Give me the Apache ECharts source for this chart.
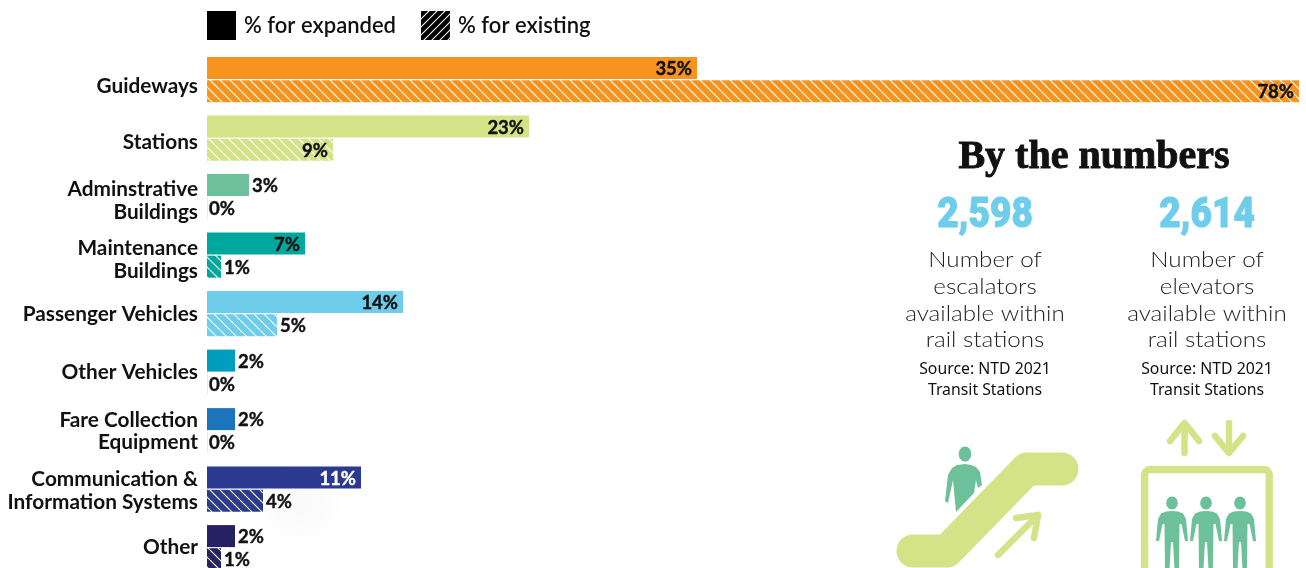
<!DOCTYPE html>
<html>
<head>
<meta charset="utf-8">
<style>html,body{margin:0;padding:0;background:#fff}#chart{width:1306px;height:568px}</style>
<script src="https://cdn.jsdelivr.net/npm/echarts@6/dist/echarts.min.js"></script>
</head>
<body>
<div id="chart"></div>
<script>
// Share of capital spending per asset class
const categories = ['Guideways','Stations','Adminstrative\nBuildings','Maintenance\nBuildings','Passenger Vehicles','Other Vehicles','Fare Collection\nEquipment','Communication &\nInformation Systems','Other'];
const expanded = [35,23,3,7,14,2,2,11,2];
const existing = [78,9,0,1,5,0,0,4,1];
const colors = ['#F7941F','#D4E387','#6CC19A','#00A79D','#6DCDEB','#009DBF','#1C75BC','#2B3990','#262262'];
const legendNames = ['% for expanded','% for existing'];

const fontFamily = 'Lato, "Noto Sans", sans-serif';
// Downward nudge of each category label relative to its row centre
const labelNudge = [5,2.5,3.5,4,-1,-1,0,1,-2];
const labelLineHeight = 23.5;

// Diagonal hatching tile; dir 1 runs top-left to bottom-right, -1 the other way
function hatch(color, dir, size) {
  const c = document.createElement('canvas');
  c.width = c.height = size;
  const g = c.getContext('2d');
  g.fillStyle = color;
  g.fillRect(0, 0, size, size);
  g.strokeStyle = '#fff';
  g.lineWidth = 1.1;
  g.beginPath();
  for (let k = -1; k <= 1; k++) {
    if (dir > 0) { g.moveTo(k * size, 0); g.lineTo(k * size + size, size); }
    else { g.moveTo(k * size + size, 0); g.lineTo(k * size, size); }
  }
  g.stroke();
  return { image: c, repeat: 'repeat' };
}

// Bar value labels sit inside when they fit, otherwise just past the bar end
function valueLabel(v, i) {
  const inside = v >= 7;
  const ink = i === 7 && inside ? '#fff' : '#111';
  return {
    show: true,
    position: inside ? 'insideRight' : 'right',
    distance: inside ? 5 : (v === 0 ? 1 : 3),
    offset: [0, 1],
    formatter: '{c}%',
    color: ink,
    textBorderColor: ink,
    textBorderWidth: 0.4,
    fontFamily, fontWeight: 'bold', fontSize: 18.5
  };
}

const green = '#D4E387', mint = '#6CC19A', blue = '#6DCDEB';

function personPts(cx, top, pts) {
  return pts.map(p => [cx + p[0], top + p[1]]);
}
// Standing figure outline, relative to the centre line and shoulder top
const figure = [[0,0],[-6,0.4],[-11,2.5],[-14,8],[-16,30],[-13,30],[-9.5,13],[-7.5,13],[-7,58],[-2.5,58],[-1,31],[1,31],[2.5,58],[7,58],[7.5,13],[9.5,13],[13,30],[16,30],[14,8],[11,2.5],[6,0.4]];

function stroke(points, width, color) {
  return { type:'polyline', shape:{points}, style:{stroke:color, lineWidth:width, lineCap:'round', lineJoin:'round', fill:null} };
}
function text(str, x, y, font, fill, extra, scaleX) {
  return { type:'text', x, y, scaleX: scaleX || 1, style:Object.assign({text:str, font, fill, textAlign:'center', textVerticalAlign:'middle'}, extra||{}) };
}

const graphics = [
  { type:'circle', z:-1, shape:{cx:300,cy:505,r:46}, style:{fill:{type:'radial',x:0.5,y:0.5,r:0.5,colorStops:[{offset:0,color:'rgba(0,0,0,0.025)'},{offset:1,color:'rgba(0,0,0,0)'}]}} },
  text('By the numbers', 1094, 158, 'bold 40px "Liberation Serif"', '#111', {stroke:'#111',lineWidth:0.9}),
  text('2,598', 985, 216, '900 42px Roboto', blue, {stroke:blue,lineWidth:1}, 0.88),
  text('2,614', 1207, 216, '900 42px Roboto', blue, {stroke:blue,lineWidth:1}, 0.88)
];
[985, 1207].forEach((cx, n) => {
  ['Number of', n ? 'elevators' : 'escalators', 'available within', 'rail stations'].forEach((t, i) => {
    graphics.push(text(t, cx, 260 + i * 26.8, '300 22px Lato', '#222', null, 1.1));
  });
  graphics.push(text('Source: NTD 2021', cx, 369, '15.8px "Noto Sans"', '#111'));
  graphics.push(text('Transit Stations', cx, 390, '15.8px "Noto Sans"', '#111'));
});

// Escalator pictogram
graphics.push(stroke([[913,551],[947,551],[1027,469],[1062,469]], 33, green));
graphics.push(stroke([[998,555],[1038,515]], 6.5, green));
graphics.push(stroke([[1016,518],[1038,515],[1034,538]], 6.5, green));
graphics.push({ type:'ellipse', shape:{cx:965,cy:454,rx:6.3,ry:7.6}, style:{fill:mint} });
graphics.push({ type:'polygon', shape:{points:[[965,464],[957,465],[952,468],[948,475],[945,501],[948,503],[953,480],[956,512],[974,493],[976,480],[978,488],[982,485],[980,472],[976,467],[971,465]]}, style:{fill:mint} });

// Elevator pictogram
graphics.push({ type:'rect', shape:{x:1144.7,y:469.5,width:124.5,height:120,r:5}, style:{stroke:green,lineWidth:7.3,fill:null} });
graphics.push(stroke([[1184.5,453],[1184.5,424]], 6.5, green));
graphics.push(stroke([[1170,441],[1184.5,423],[1199,441]], 6.5, green));
graphics.push(stroke([[1229,423],[1229,452]], 6.5, green));
graphics.push(stroke([[1215,436],[1229,453],[1243,436]], 6.5, green));
[1172,1206,1240].forEach(cx => {
  graphics.push({ type:'ellipse', shape:{cx,cy:503,rx:5.8,ry:6.5}, style:{fill:mint} });
  graphics.push({ type:'polygon', shape:{points:personPts(cx,511,figure)}, style:{fill:mint} });
});

const labelFont = { fontFamily, fontWeight:'bold', fontSize:20.8, color:'#111' };
const labelRich = { rest: Object.assign({ lineHeight: labelLineHeight }, labelFont) };
labelNudge.forEach((s, i) => {
  labelRich['row' + i] = Object.assign({ lineHeight: labelLineHeight + 2 * s, verticalAlign:'bottom' }, labelFont);
});

const chart = echarts.init(document.getElementById('chart'), null, {renderer:'canvas'});
chart.setOption({
  animation:false,
  backgroundColor:'#fff',
  legend:{
    left:202, top:6, itemWidth:29, itemHeight:29, itemGap:25, selectedMode:false, icon:'rect',
    textStyle:{fontFamily,fontSize:22,fontWeight:600,color:'#111',padding:[0,0,0,3]},
    data:[
      {name:legendNames[0], itemStyle:{color:'#000'}},
      {name:legendNames[1], itemStyle:{color:hatch('#000',-1,8)}}
    ]
  },
  grid:{left:207, top:50.4, width:1092, height:526.5, outerBoundsMode:'none'},
  xAxis:{type:'value', min:0, max:78, show:false},
  yAxis:{
    type:'category', inverse:true, data:categories,
    axisLine:{show:false}, axisTick:{show:false},
    axisLabel:{
      margin:9, align:'right', ...labelFont, lineHeight:labelLineHeight, rich:labelRich,
      formatter:(value, index) => value.split('\n').map((line, j) => `{${j ? 'rest' : 'row' + index}|${line}}`).join('\n')
    }
  },
  series:[
    { name:legendNames[0], type:'bar', barWidth:22, barGap:'5%',
      data:expanded.map((v,i)=>({value:v, itemStyle:{color:colors[i]}, label:valueLabel(v,i)})) },
    { name:legendNames[1], type:'bar', barWidth:22, barGap:'5%', barMinHeight:1,
      data:existing.map((v,i)=>({value:v, itemStyle:{color:v === 0 ? '#FBE6C9' : hatch(colors[i],1,10)}, label:valueLabel(v,i)})) }
  ],
  graphic:graphics
});
</script>
</body>
</html>
